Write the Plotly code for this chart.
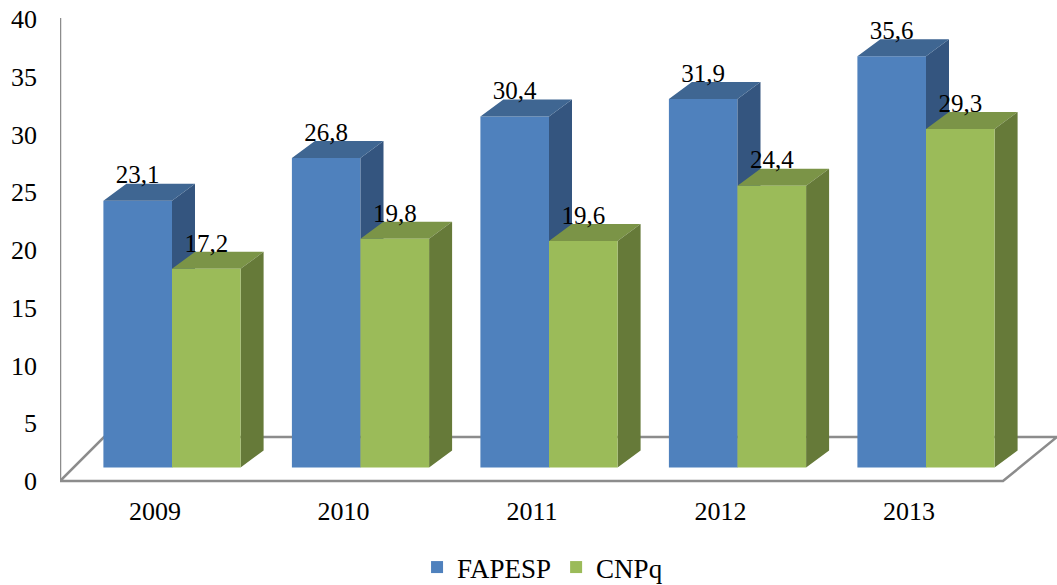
import plotly.graph_objects as go

years = ["2009", "2010", "2011", "2012", "2013"]
fapesp = [23.1, 26.8, 30.4, 31.9, 35.6]
cnpq = [17.2, 19.8, 19.6, 24.4, 29.3]
y_ticks = [0, 5, 10, 15, 20, 25, 30, 35, 40]
fapesp_labels = ["23,1", "26,8", "30,4", "31,9", "35,6"]
cnpq_labels = ["17,2", "19,8", "19,6", "24,4", "29,3"]

W, H = 1057, 585
PX_LEFT, PX_TOP, PX_BOTTOM = 60, 10, 490
PX_ZERO = 481
PY = 11.55      # px per value unit
PC = 188.5      # px per category
PX_CAT0 = 172   # px of the boundary between both bars of the first group

def X(px):
    return (px - PX_CAT0) / PC

def Y(py):
    return (PX_ZERO - py) / PY

bw = 68.6 / PC
base = Y(467.5)
dx = 23 / PC
dy = 17 / PY
label_drop = 6 / PY
xs = list(range(len(years)))
x_range = [X(PX_LEFT), X(W)]
y_range = [Y(PX_BOTTOM), Y(PX_TOP)]
FONT = "Liberation Serif"


def side(vals, off):
    px, py = [], []
    for i, v in zip(xs, vals):
        r = i + off + bw
        px += [r, r + dx, r + dx, r, r, None]
        py += [base, base + dy, base + v + dy, base + v, base, None]
    return px, py


def top(vals, off):
    px, py = [], []
    for i, v in zip(xs, vals):
        l = i + off
        px += [l, l + dx, l + bw + dx, l + bw, l, None]
        py += [base + v, base + v + dy, base + v + dy, base + v, base + v, None]
    return px, py


def poly(p, color):
    return go.Scatter(x=p[0], y=p[1], mode="none", fill="toself", fillcolor=color,
                      showlegend=False, hoverinfo="skip")


fig = go.Figure()
fig.add_trace(go.Bar(name="FAPESP", x=xs, y=fapesp, base=base, width=bw, offset=-bw,
                     marker=dict(color="#4F81BD", line_width=0)))
fig.add_trace(poly(side(fapesp, -bw), "#34557F"))
fig.add_trace(poly(top(fapesp, -bw), "#3F6692"))
fig.add_trace(poly(top(cnpq, 0), "#7B9447"))
fig.add_trace(poly(side(cnpq, 0), "#667A39"))
fig.add_trace(go.Bar(name="CNPq", x=xs, y=cnpq, base=base, width=bw, offset=0,
                     marker=dict(color="#9BBB59", line_width=0), xaxis="x2", yaxis="y2"))
for vals, labels, off in [(fapesp, fapesp_labels, -bw / 2), (cnpq, cnpq_labels, bw / 2)]:
    fig.add_trace(go.Scatter(
        x=[i + off for i in xs], y=[base + v + dy - label_drop for v in vals], text=labels,
        mode="text", textposition="top center", textfont=dict(family=FONT, size=25, color="black"),
        showlegend=False, hoverinfo="skip", xaxis="x2", yaxis="y2"))

line = dict(color="#8C8C8C", width=2.5)
floor_path = "M {} {} L {} {} L {} {} L {} {} Z".format(
    X(60), Y(481), X(1003), Y(481), X(1057), Y(437), X(104), Y(437))
fig.update_layout(
    width=W, height=H, autosize=False,
    margin=dict(l=PX_LEFT, r=0, t=PX_TOP, b=H - PX_BOTTOM, autoexpand=False),
    plot_bgcolor="white", paper_bgcolor="white",
    barmode="overlay",
    xaxis=dict(range=x_range, tickmode="array", tickvals=[i - 0.09 for i in xs], ticktext=years,
               showgrid=False, zeroline=False, showline=False, ticks="",
               ticklabelstandoff=3, ticklabeloverflow="allow",
               tickfont=dict(family=FONT, size=26, color="black")),
    yaxis=dict(range=y_range, tickmode="array", tickvals=y_ticks, showgrid=False, zeroline=False,
               showline=False, ticks="", ticklabelstandoff=22, ticklabeloverflow="allow",
               tickfont=dict(family=FONT, size=26, color="black")),
    xaxis2=dict(range=x_range, overlaying="x", visible=False),
    yaxis2=dict(range=y_range, overlaying="y", visible=False),
    legend=dict(orientation="h", x=0.484, xanchor="center", y=-0.1615, yanchor="middle",
                font=dict(family=FONT, size=27, color="black"), bgcolor="rgba(0,0,0,0)"),
    shapes=[
        dict(type="path", path=floor_path, line=line, layer="below"),
        dict(type="line", x0=X(60), x1=X(60), y0=Y(481), y1=Y(18), line=line, layer="below"),
    ],
)
fig.write_html(
    "out.html",
    config={"displayModeBar": False},
    post_script="document.documentElement.style.overflow='hidden';"
                "document.body.style.overflow='hidden';document.body.style.margin='0';",
)
